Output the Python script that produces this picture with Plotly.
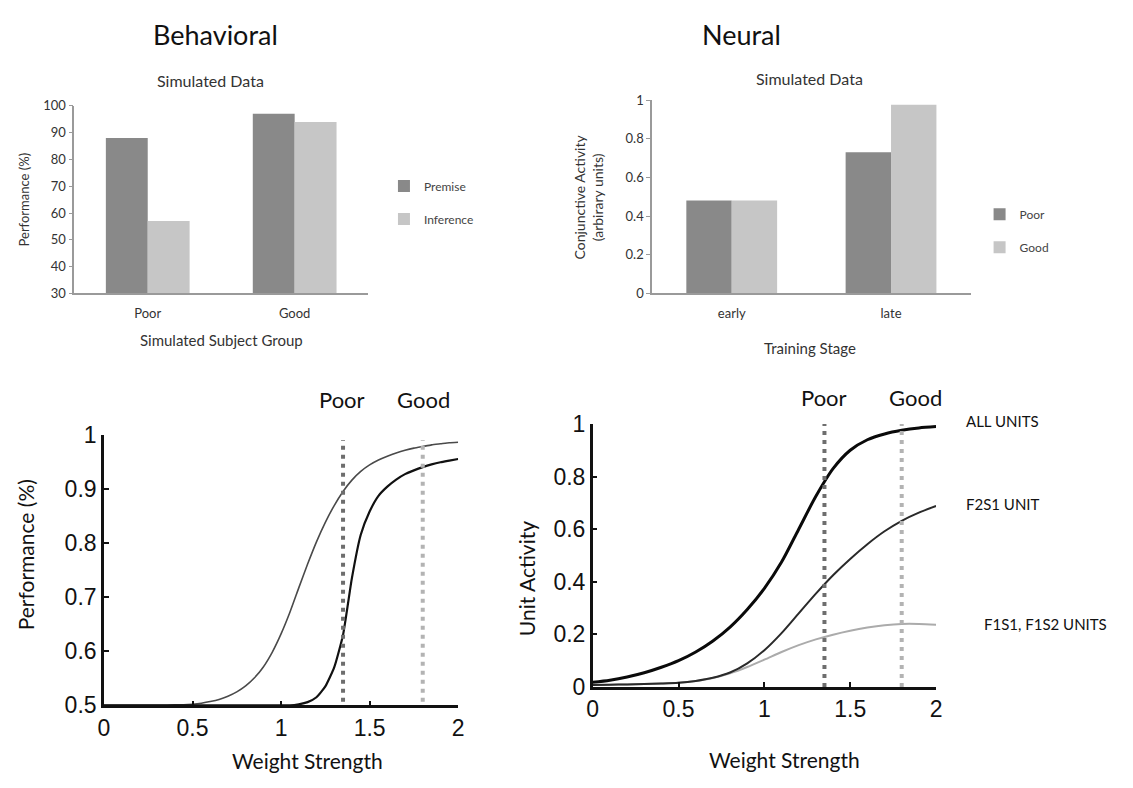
import plotly.graph_objects as go

# ---------------- data ----------------
groups_behav = ["Poor", "Good"]
premise_pct = [88, 97]
inference_pct = [57, 94]

stages = ["early", "late"]
conj_poor = [0.48, 0.73]
conj_good = [0.48, 0.975]

weight_fine = [0.00, 0.05, 0.10, 0.15, 0.20, 0.25, 0.30, 0.35, 0.40, 0.45,
               0.50, 0.55, 0.60, 0.65, 0.70, 0.75, 0.80, 0.85, 0.90, 0.95,
               1.00, 1.05, 1.10, 1.15, 1.20, 1.25, 1.30, 1.35, 1.40, 1.45,
               1.50, 1.55, 1.60, 1.65, 1.70, 1.75, 1.80, 1.85, 1.90, 1.95, 2.00]
perf_curve_a = [0.500, 0.500, 0.500, 0.500, 0.500, 0.500, 0.500, 0.500, 0.501, 0.501,
                0.502, 0.504, 0.507, 0.511, 0.517, 0.525, 0.536, 0.551, 0.571, 0.598,
                0.632, 0.672, 0.717, 0.761, 0.802, 0.838, 0.869, 0.895, 0.916, 0.932,
                0.944, 0.953, 0.960, 0.966, 0.971, 0.975, 0.978, 0.981, 0.983, 0.985, 0.986]
perf_curve_b = [0.500, 0.500, 0.500, 0.500, 0.500, 0.500, 0.500, 0.500, 0.500, 0.500,
                0.500, 0.500, 0.500, 0.500, 0.500, 0.500, 0.500, 0.500, 0.500, 0.500,
                0.500, 0.500, 0.502, 0.506, 0.515, 0.535, 0.570, 0.630, 0.735, 0.815,
                0.858, 0.887, 0.904, 0.917, 0.927, 0.934, 0.940, 0.945, 0.949, 0.952, 0.955]

weight = [0.0, 0.1, 0.2, 0.3, 0.4, 0.5, 0.6, 0.7, 0.8, 0.9, 1.0,
          1.1, 1.2, 1.3, 1.4, 1.5, 1.6, 1.7, 1.8, 1.9, 2.0]
all_units = [0.018, 0.026, 0.038, 0.054, 0.075, 0.100, 0.133, 0.175, 0.228, 0.295, 0.375,
             0.475, 0.600, 0.725, 0.830, 0.900, 0.940, 0.962, 0.976, 0.985, 0.990]
f2s1_unit = [0.008, 0.009, 0.010, 0.011, 0.013, 0.016, 0.023, 0.035, 0.055, 0.090, 0.140,
             0.205, 0.280, 0.355, 0.425, 0.487, 0.543, 0.592, 0.632, 0.663, 0.688]
f1s1_units = [0.008, 0.009, 0.010, 0.011, 0.013, 0.016, 0.023, 0.034, 0.052, 0.076, 0.104,
              0.133, 0.159, 0.181, 0.199, 0.214, 0.226, 0.235, 0.240, 0.240, 0.237]

poor_weight = [1.35, 1.35]
good_weight = [1.80, 1.80]
marker_perf_span = [0.49, 0.99]
marker_unit_span = [0.0, 1.0]

# ---------------- figure ----------------
W, H = 1133, 788
TXT = "Lato"
NUM = "Liberation Sans"

fig = go.Figure()

# top-left bars
fig.add_trace(go.Bar(x=groups_behav, y=premise_pct, name="Premise",
                     marker=dict(color="#898989", line=dict(width=0)),
                     xaxis="x", yaxis="y", legend="legend", legendgroup="p"))
fig.add_trace(go.Bar(x=groups_behav, y=inference_pct, name="Inference",
                     marker=dict(color="#c6c6c6", line=dict(width=0)),
                     xaxis="x", yaxis="y", legend="legend", legendgroup="i"))
# top-right bars
fig.add_trace(go.Bar(x=stages, y=conj_poor, name="Poor",
                     marker=dict(color="#898989", line=dict(width=0)),
                     xaxis="x2", yaxis="y2", legend="legend2", legendgroup="pp"))
fig.add_trace(go.Bar(x=stages, y=conj_good, name="Good",
                     marker=dict(color="#c6c6c6", line=dict(width=0)),
                     xaxis="x2", yaxis="y2", legend="legend2", legendgroup="gg"))

# bottom-left curves
fig.add_trace(go.Scatter(x=weight_fine, y=perf_curve_a, mode="lines",
                         line=dict(color="#4a4a4a", width=1.6, shape="spline", smoothing=0.5),
                         xaxis="x3", yaxis="y3", showlegend=False))
fig.add_trace(go.Scatter(x=weight_fine, y=perf_curve_b, mode="lines",
                         line=dict(color="#111111", width=2.2, shape="spline", smoothing=0.5),
                         xaxis="x3", yaxis="y3", showlegend=False))
fig.add_trace(go.Scatter(x=poor_weight, y=marker_perf_span, mode="lines",
                         line=dict(color="#6e6e6e", width=4, dash="4px,5px"),
                         xaxis="x3", yaxis="y3", showlegend=False))
fig.add_trace(go.Scatter(x=good_weight, y=marker_perf_span, mode="lines",
                         line=dict(color="#b3b3b3", width=4, dash="4px,5px"),
                         xaxis="x3", yaxis="y3", showlegend=False))

# bottom-right curves
fig.add_trace(go.Scatter(x=weight, y=f1s1_units, mode="lines",
                         line=dict(color="#ababab", width=2, shape="spline", smoothing=0.8),
                         xaxis="x4", yaxis="y4", showlegend=False))
fig.add_trace(go.Scatter(x=weight, y=f2s1_unit, mode="lines",
                         line=dict(color="#2a2a2a", width=2, shape="spline", smoothing=0.8),
                         xaxis="x4", yaxis="y4", showlegend=False))
fig.add_trace(go.Scatter(x=weight, y=all_units, mode="lines",
                         line=dict(color="#0a0a0a", width=3, shape="spline", smoothing=0.8),
                         xaxis="x4", yaxis="y4", showlegend=False))
fig.add_trace(go.Scatter(x=poor_weight, y=marker_unit_span, mode="lines",
                         line=dict(color="#6e6e6e", width=4, dash="4px,5px"),
                         xaxis="x4", yaxis="y4", showlegend=False))
fig.add_trace(go.Scatter(x=good_weight, y=marker_unit_span, mode="lines",
                         line=dict(color="#b3b3b3", width=4, dash="4px,5px"),
                         xaxis="x4", yaxis="y4", showlegend=False))


def px(x):
    return x / W


def py(y):
    return 1 - y / H


bar_x = dict(showline=True, linecolor="#9a9a9a", linewidth=1.5, ticks="",
             showgrid=False, zeroline=False, type="category",
             tickfont=dict(family=TXT, size=13, color="#333"), ticklabelstandoff=7)
bar_y = dict(showline=True, linecolor="#9a9a9a", linewidth=1.5, ticks="outside",
             ticklen=4, tickcolor="#9a9a9a", showgrid=False, zeroline=False,
             tickfont=dict(family=TXT, size=13, color="#333"))
line_x = dict(showline=True, linecolor="#111", linewidth=2.5, ticks="inside",
              ticklen=5, tickwidth=2, tickcolor="#111", showgrid=False, zeroline=False,
              range=[0, 2], dtick=0.5, tick0=0,
              tickfont=dict(family=NUM, size=23, color="#111"))
line_y = dict(showline=True, linecolor="#111", linewidth=2.5, ticks="inside",
              ticklen=5, tickwidth=2, tickcolor="#111", showgrid=False, zeroline=False,
              tickfont=dict(family=NUM, size=23, color="#111"), ticklabelstandoff=0)

fig.update_layout(
    width=W, height=H, margin=dict(l=0, r=0, t=0, b=0),
    paper_bgcolor="white", plot_bgcolor="white",
    barmode="group", bargap=0.43, bargroupgap=0,
    xaxis=dict(domain=[px(69), px(366)], anchor="y", **bar_x),
    yaxis=dict(domain=[py(290), py(96)], anchor="x", range=[30, 100], dtick=10, **bar_y),
    xaxis2=dict(domain=[px(653), px(975)], anchor="y2", **bar_x),
    yaxis2=dict(domain=[py(290), py(90)], anchor="x2", range=[0, 1], dtick=0.2, **bar_y),
    xaxis3=dict(domain=[px(99), px(457)], anchor="y3", **line_x),
    yaxis3=dict(domain=[py(716), py(436)], anchor="x3", range=[0.5, 1.0], dtick=0.1, **line_y),
    xaxis4=dict(domain=[px(593), px(940)], anchor="y4", **line_x),
    yaxis4=dict(domain=[py(697), py(425)], anchor="x4", range=[0, 1.0], dtick=0.2, **line_y),
    legend=dict(x=px(382), y=py(164), xanchor="left", yanchor="top",
                font=dict(family=TXT, size=12, color="#444"), tracegroupgap=14,
                itemwidth=30, bgcolor="rgba(0,0,0,0)"),
    legend2=dict(x=px(984), y=py(193), xanchor="left", yanchor="top",
                 font=dict(family=TXT, size=12, color="#444"), tracegroupgap=14,
                 itemwidth=30, bgcolor="rgba(0,0,0,0)"),
)


def note(text, x, y, size, angle=0, xanchor="center", color="#111"):
    fig.add_annotation(text=text, x=x, y=y, xref="paper", yref="paper",
                       showarrow=False, xanchor=xanchor, yanchor="middle",
                       textangle=angle, font=dict(family=TXT, size=size, color=color))


note("Behavioral", px(212), py(22), 27)
note("Neural", px(743), py(22), 27)
note("Simulated Data", px(207), py(70), 16, color="#333")
note("Simulated Data", px(812), py(68), 16, color="#333")
note("Performance (%)", px(18), py(193), 13, angle=-90, color="#333")
note("Simulated Subject Group", px(218), py(338), 15, color="#333")
note("Conjunctive Activity<br>(arbirary units)", px(589), py(190), 14, angle=-90, color="#333")
note("Training Stage", px(813), py(346), 15, color="#333")
note("Performance (%)", px(20), py(560), 21, angle=-90)
note("Weight Strength", px(305), py(773), 21)
note("Unit Activity", px(526), py(585), 21, angle=-90)
note("Weight Strength", px(787), py(772), 21)
note("Poor", px(340), py(400), 22)
note("Good", px(422), py(400), 22)
note("Poor", px(827), py(398), 22)
note("Good", px(919), py(398), 22)
note("ALL UNITS", px(968), py(422), 15, xanchor="left")
note("F2S1 UNIT", px(968), py(508), 15, xanchor="left")
note("F1S1, F1S2 UNITS", px(986), py(632), 15, xanchor="left")

fig.write_html("out.html", config={"displayModeBar": False},
               post_script="document.body.style.margin='0';")
